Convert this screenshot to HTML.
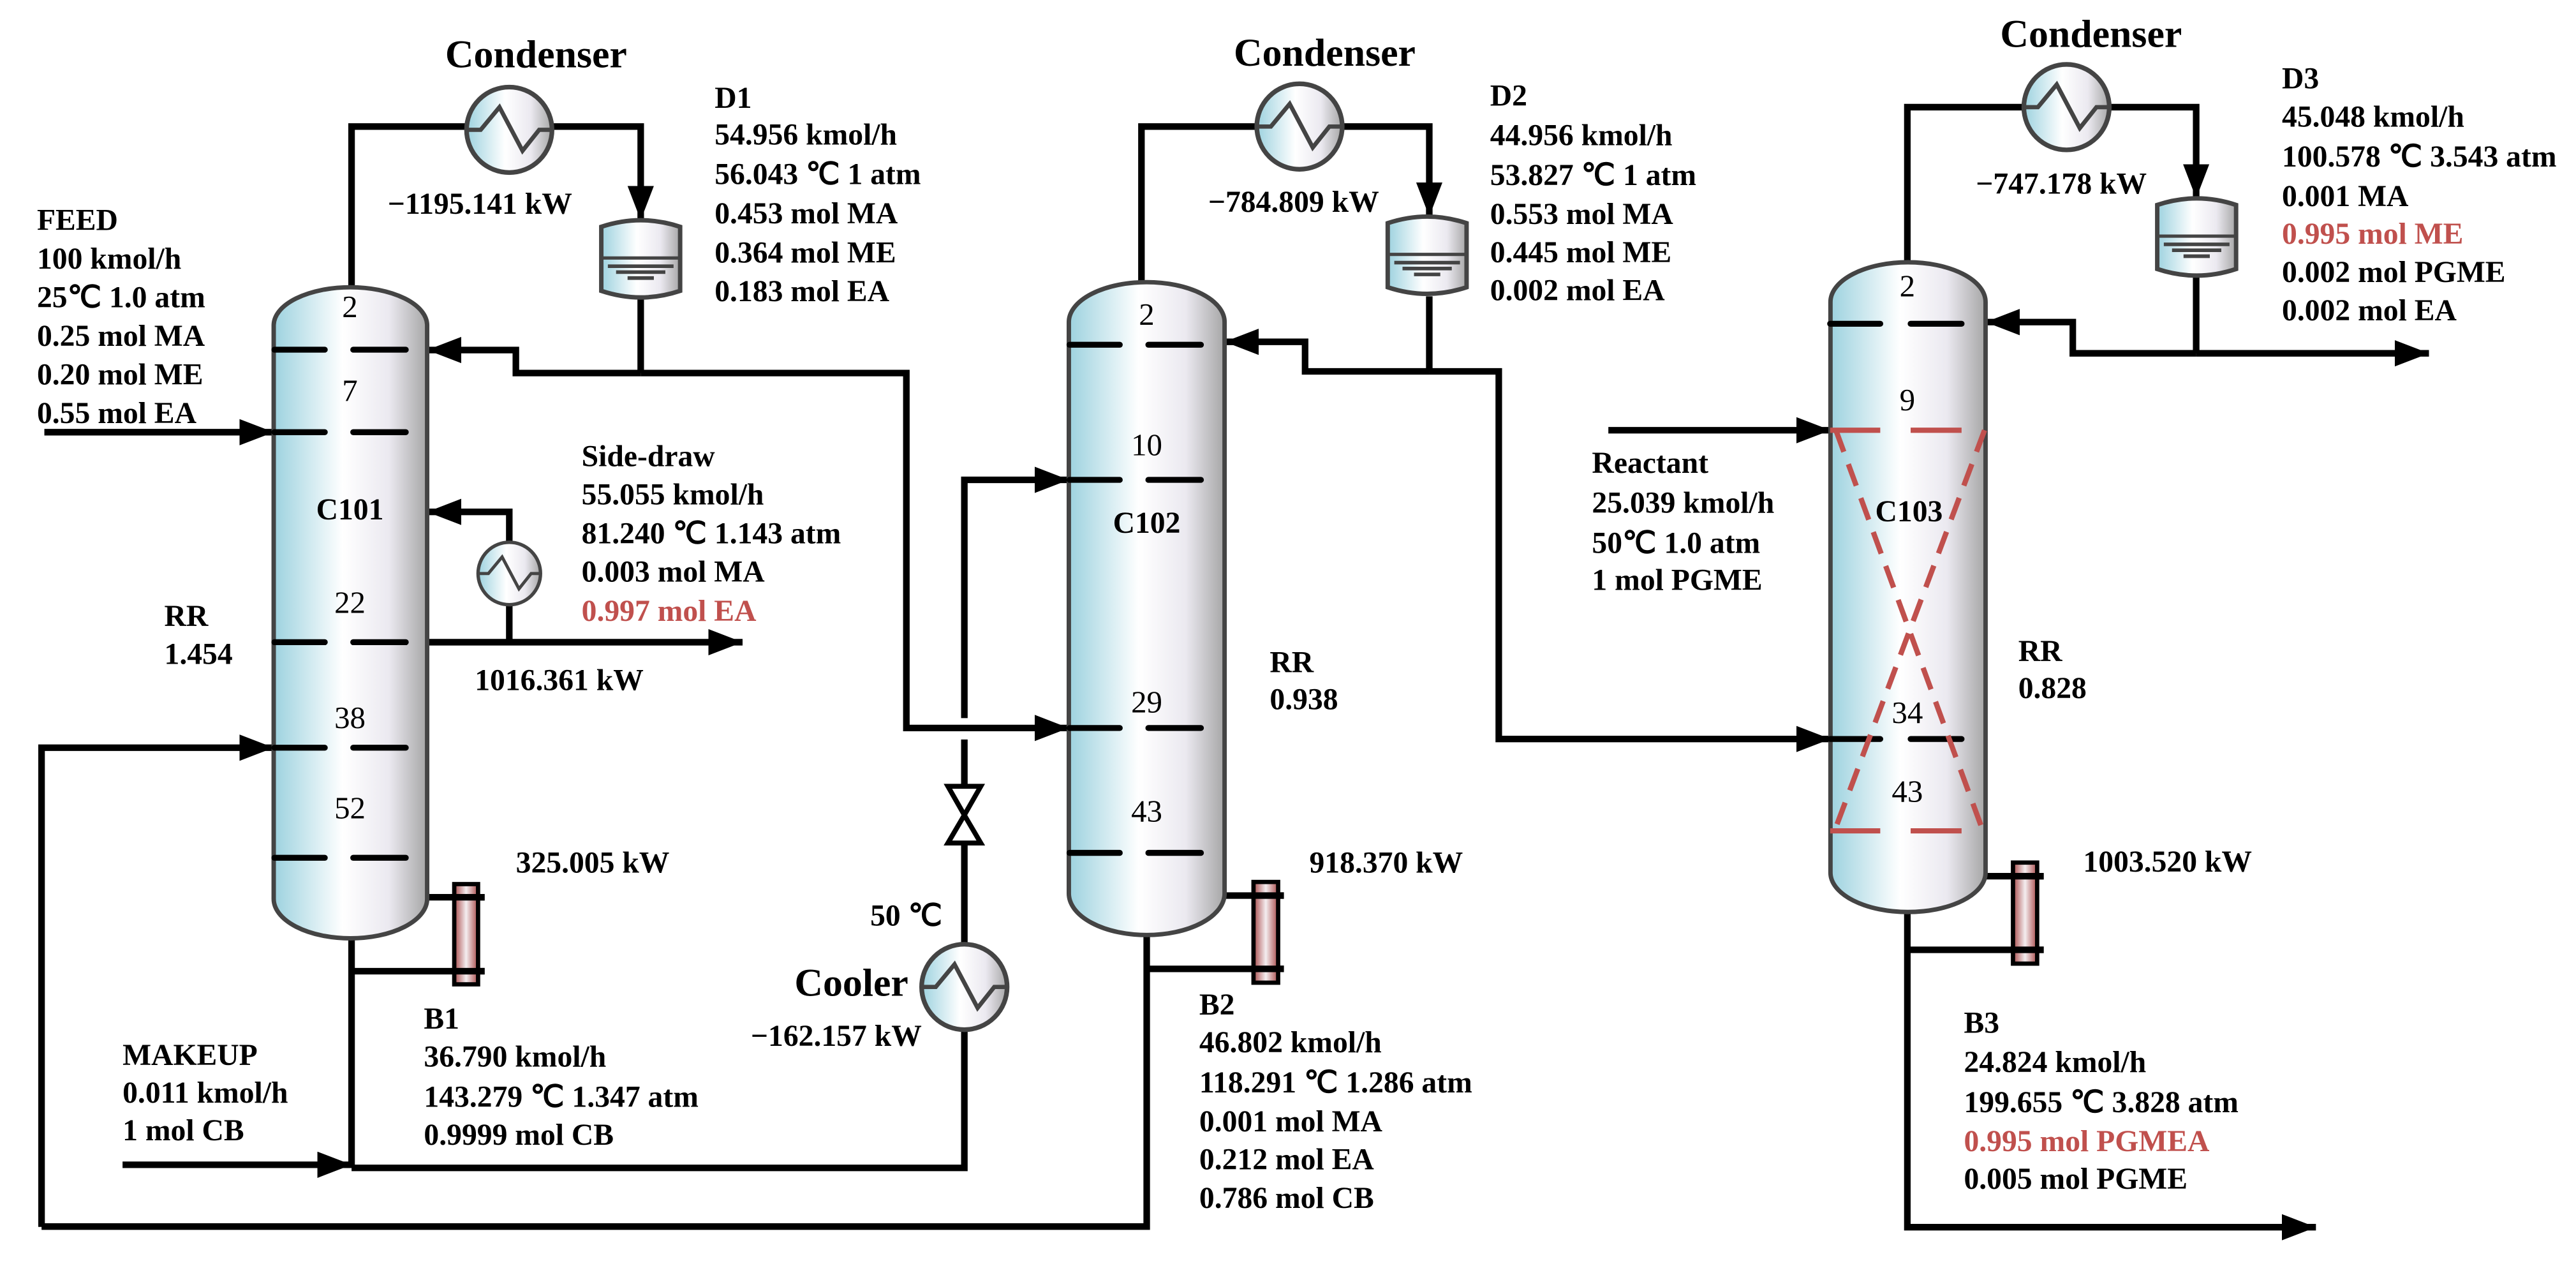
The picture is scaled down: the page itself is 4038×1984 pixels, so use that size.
<!DOCTYPE html>
<html><head><meta charset="utf-8"><style>
html,body{margin:0;padding:0;background:#fff;}
svg{display:block;}
text{font-family:"Liberation Serif","Times New Roman",serif;font-weight:bold;font-size:18.5px;fill:#000;}
.n{font-weight:normal;font-size:19px;}
.r{fill:#c0504d;}
.big{font-size:24px;}
</style></head><body>
<svg width="4038" height="1984" viewBox="0 0 1568 770.4" xmlns="http://www.w3.org/2000/svg">
<defs>
<linearGradient id="g" x1="0" y1="0" x2="1" y2="0">
<stop offset="0" stop-color="#9dd2df"/><stop offset="0.45" stop-color="#ffffff"/><stop offset="0.75" stop-color="#ebe9f0"/><stop offset="1" stop-color="#a6a6a6"/>
</linearGradient>
<linearGradient id="rb" x1="0" y1="0" x2="1" y2="0">
<stop offset="0" stop-color="#a94a4a"/><stop offset="0.5" stop-color="#f4eef0"/><stop offset="1" stop-color="#a94a4a"/>
</linearGradient>
<g id="hx"><circle cx="0" cy="0" r="1" fill="url(#g)" stroke="#444" stroke-width="0.11"/>
<path d="M-1,0 L-0.67,0 L-0.23,-0.53 L0.31,0.49 L0.7,0 L1,0" fill="none" stroke="#444" stroke-width="0.1"/></g>
<marker id="a" viewBox="0 0 10 10" refX="10" refY="5" markerWidth="5.2" markerHeight="4" markerUnits="strokeWidth" orient="auto-start-reverse" preserveAspectRatio="none"><path d="M0,0 L10,5 L0,10 Z" fill="#000"/></marker>
</defs>

<g fill="none" stroke="#000" stroke-width="4" stroke-linejoin="miter">
<!-- C101 -->
<polyline points="214,176 214,77 284,77"/>
<polyline points="336,77 390,77 390,134" marker-end="url(#a)"/>
<line x1="390" y1="181" x2="390" y2="227"/>
<polyline points="390,227 314,227 314,213 260,213" marker-end="url(#a)"/>
<polyline points="390,227 551.7,227 551.7,443 650.6,443" marker-end="url(#a)"/>
<line x1="27" y1="263" x2="166.6" y2="263" marker-end="url(#a)"/>
<polyline points="310,330 310,311.5 260,311.5" marker-end="url(#a)"/>
<line x1="310" y1="368" x2="310" y2="390.8"/>
<line x1="260" y1="390.8" x2="452" y2="390.8" marker-end="url(#a)"/>
<polyline points="25.3,746.6 25.3,455 166.6,455" marker-end="url(#a)"/>
<line x1="260" y1="546" x2="295" y2="546"/>
<polyline points="295,591 214,591"/>
<line x1="214" y1="571" x2="214" y2="710.7"/>
<line x1="74.6" y1="708.8" x2="214" y2="708.8" marker-end="url(#a)"/>
<polyline points="214,710.7 587,710.7 587,626.6"/>
<line x1="587" y1="574.6" x2="587" y2="513"/>
<line x1="587" y1="478.5" x2="587" y2="450"/>
<polyline points="587,437 587,292 650.6,292" marker-end="url(#a)"/>
<!-- C102 -->
<polyline points="694.8,172 694.8,77 765,77"/>
<polyline points="817,77 870,77 870,131.8" marker-end="url(#a)"/>
<line x1="870" y1="180.3" x2="870" y2="226"/>
<polyline points="870,226 794.4,226 794.4,208 745.4,208" marker-end="url(#a)"/>
<polyline points="870,226 912.3,226 912.3,449.7 1114.2,449.7" marker-end="url(#a)"/>
<line x1="745.4" y1="545" x2="781.5" y2="545"/>
<polyline points="781.5,589.6 698,589.6"/>
<polyline points="698,569 698,746.4 25.3,746.4"/>
<!-- C103 -->
<polyline points="1161,160 1161,65.2 1232,65.2"/>
<polyline points="1284,65.2 1336.8,65.2 1336.8,120.7" marker-end="url(#a)"/>
<line x1="1336.8" y1="168" x2="1336.8" y2="215"/>
<line x1="1336.8" y1="215" x2="1478.5" y2="215" marker-end="url(#a)"/>
<polyline points="1336.8,215 1261.7,215 1261.7,196 1208.6,196" marker-end="url(#a)"/>
<line x1="979" y1="261.8" x2="1114.2" y2="261.8" marker-end="url(#a)"/>
<line x1="1208.6" y1="533.2" x2="1244" y2="533.2"/>
<polyline points="1244,578 1161,578"/>
<polyline points="1161,555 1161,746.8 1409.7,746.8" marker-end="url(#a)"/>
</g>

<!-- columns -->
<g fill="url(#g)" stroke="#444" stroke-width="2.7">
<path d="M166.6,198 A46.7,23.2 0 0 1 260,198 L260,547 A46.7,24 0 0 1 166.6,547 Z"/>
<path d="M650.6,196 A47.4,24.3 0 0 1 745.4,196 L745.4,543.7 A47.4,25.3 0 0 1 650.6,543.7 Z"/>
<path d="M1114.2,183.8 A47.2,24.2 0 0 1 1208.6,183.8 L1208.6,531 A47.2,24 0 0 1 1114.2,531 Z"/>
</g>

<!-- trays -->
<g stroke="#000" stroke-width="3.6" stroke-linecap="round">
<path d="M167,212.8H197.7M215,212.8H247 M167,263H197.7M215,263H247 M167,390.8H197.7M215,390.8H247 M167,455H197.7M215,455H247 M167,522H197.7M215,522H247"/>
<path d="M651,209.8H681.6M699,209.8H731 M651,292H681.6M699,292H731 M651,443H681.6M699,443H731 M651,519H681.6M699,519H731"/>
<path d="M1114,197H1144.5M1163,197H1194 M1114,449.7H1144.5M1163,449.7H1194"/>
</g>
<g stroke="#c0504d" stroke-width="3.2">
<path d="M1114,261.8H1144.5M1163,261.8H1194 M1114,505.6H1144.5M1163,505.6H1194"/>
<path d="M1117.5,261.8 L1207,505.6 M1208,261.8 L1116.7,505.6" stroke-dasharray="14,8" fill="none"/>
</g>

<!-- heat exchangers -->
<use href="#hx" transform="translate(310,79) scale(26)"/>
<use href="#hx" transform="translate(791,77) scale(26)"/>
<use href="#hx" transform="translate(1257.9,65.2) scale(26)"/>
<use href="#hx" transform="translate(310,349) scale(19)"/>
<use href="#hx" transform="translate(587,600.6) scale(26)"/>

<!-- drums -->
<g id="d1">
<path d="M366,138 Q390,130 414,138 L414,177 Q390,185 366,177 Z" fill="url(#g)" stroke="#444" stroke-width="2.7"/>
<path d="M366,157 H414" stroke="#444" stroke-width="2"/>
<path d="M370,162 H410 M375,165.6 H405 M382,169.2 H398" stroke="#444" stroke-width="2.2"/>
</g>
<use href="#d1" transform="translate(478.7,-2.2)"/>
<use href="#d1" transform="translate(947.1,-13.3)"/>

<!-- reboilers -->
<g fill="url(#rb)" stroke="#000" stroke-width="2.6">
<rect x="276.5" y="538" width="14.5" height="61"/>
<rect x="763" y="536.7" width="15" height="61.3"/>
<rect x="1225.3" y="524.9" width="14.7" height="61.5"/>
</g>
<g stroke="#000" stroke-width="4">
<path d="M276,546H295 M276,591H295 M762,545H781.5 M762,589.6H781.5 M1224,533.2H1244 M1224,578H1244"/>
</g>

<!-- valve -->
<g fill="#fff" stroke="#000" stroke-width="3">
<path d="M577,478.5 L597,478.5 L587,496 Z"/>
<path d="M577,513 L597,513 L587,496 Z"/>
</g>

<!-- labels -->
<text class="big" x="271" y="41">Condenser</text>
<text class="big" x="751" y="40">Condenser</text>
<text class="big" x="1217.5" y="28.5">Condenser</text>
<text class="big" x="483.6" y="606">Cooler</text>

<text x="236" y="130">−1195.141 kW</text>
<text x="735.4" y="129">−784.809 kW</text>
<text x="1202.7" y="117.9">−747.178 kW</text>

<text x="435" y="65.6">D1</text>
<text x="435" y="87.9">54.956 kmol/h</text>
<text x="435" y="112">56.043 ℃ 1 atm</text>
<text x="435" y="136">0.453 mol MA</text>
<text x="435" y="159.7">0.364 mol ME</text>
<text x="435" y="183.3">0.183 mol EA</text>

<text x="22.5" y="140">FEED</text>
<text x="22.5" y="163.5">100 kmol/h</text>
<text x="22.5" y="187">25℃ 1.0 atm</text>
<text x="22.5" y="210.5">0.25 mol MA</text>
<text x="22.5" y="234">0.20 mol ME</text>
<text x="22.5" y="257.5">0.55 mol EA</text>

<text x="354" y="283.6">Side-draw</text>
<text x="354" y="307">55.055 kmol/h</text>
<text x="354" y="330.6">81.240 ℃ 1.143 atm</text>
<text x="354" y="354">0.003 mol MA</text>
<text x="354" y="377.8" class="r">0.997 mol EA</text>

<text x="100" y="381">RR</text>
<text x="100" y="404">1.454</text>
<text x="289" y="420">1016.361 kW</text>
<text x="314" y="531">325.005 kW</text>

<text x="258" y="626">B1</text>
<text x="258" y="649">36.790 kmol/h</text>
<text x="258" y="673.5">143.279 ℃ 1.347 atm</text>
<text x="258" y="696.7">0.9999 mol CB</text>

<text x="74.6" y="648">MAKEUP</text>
<text x="74.6" y="671">0.011 kmol/h</text>
<text x="74.6" y="694">1 mol CB</text>

<text x="529.7" y="563.3">50 ℃</text>
<text x="457" y="636.5">−162.157 kW</text>

<text x="907" y="64.2">D2</text>
<text x="907" y="88.4">44.956 kmol/h</text>
<text x="907" y="112.7">53.827 ℃ 1 atm</text>
<text x="907" y="136.3">0.553 mol MA</text>
<text x="907" y="159.5">0.445 mol ME</text>
<text x="907" y="182.7">0.002 mol EA</text>

<text x="969" y="287.8">Reactant</text>
<text x="969" y="312">25.039 kmol/h</text>
<text x="969" y="336.4">50℃ 1.0 atm</text>
<text x="969" y="358.9">1 mol PGME</text>

<text x="772.9" y="409">RR</text>
<text x="772.9" y="431.7">0.938</text>
<text x="797" y="531">918.370 kW</text>

<text x="730" y="617.5">B2</text>
<text x="730" y="640.4">46.802 kmol/h</text>
<text x="730" y="664.8">118.291 ℃ 1.286 atm</text>
<text x="730" y="688.5">0.001 mol MA</text>
<text x="730" y="711.5">0.212 mol EA</text>
<text x="730" y="735">0.786 mol CB</text>

<text x="1389" y="53.7">D3</text>
<text x="1389" y="77">45.048 kmol/h</text>
<text x="1389" y="101.3">100.578 ℃ 3.543 atm</text>
<text x="1389" y="125.5">0.001 MA</text>
<text x="1389" y="148.4" class="r">0.995 mol ME</text>
<text x="1389" y="171.6">0.002 mol PGME</text>
<text x="1389" y="194.9">0.002 mol EA</text>

<text x="1228.5" y="402.2">RR</text>
<text x="1228.5" y="424.8">0.828</text>
<text x="1268" y="530.5">1003.520 kW</text>

<text x="1195.4" y="628.5">B3</text>
<text x="1195.4" y="652.3">24.824 kmol/h</text>
<text x="1195.4" y="676.8">199.655 ℃ 3.828 atm</text>
<text x="1195.4" y="700.6" class="r">0.995 mol PGMEA</text>
<text x="1195.4" y="723.5">0.005 mol PGME</text>

<!-- column labels -->
<g text-anchor="middle">
<text class="n" x="213" y="193">2</text>
<text class="n" x="213" y="244">7</text>
<text x="213" y="316">C101</text>
<text class="n" x="213" y="373">22</text>
<text class="n" x="213" y="443">38</text>
<text class="n" x="213" y="498">52</text>
<text class="n" x="698" y="197.7">2</text>
<text class="n" x="698" y="277">10</text>
<text x="698" y="324.2">C102</text>
<text class="n" x="698" y="433.5">29</text>
<text class="n" x="698" y="500">43</text>
<text class="n" x="1161" y="180.3">2</text>
<text class="n" x="1161" y="249.7">9</text>
<text x="1162" y="317.3">C103</text>
<text class="n" x="1161" y="440">34</text>
<text class="n" x="1161" y="488">43</text>
</g>
</svg>
</body></html>
